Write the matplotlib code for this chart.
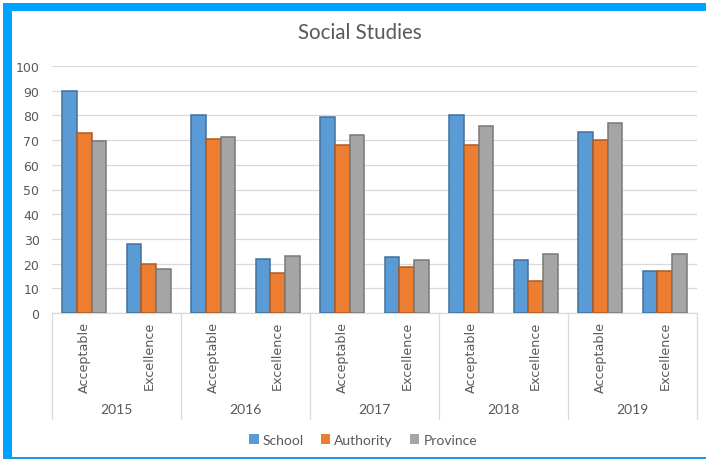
import matplotlib
matplotlib.use("Agg")
import matplotlib.pyplot as plt
from matplotlib.patches import Rectangle
from matplotlib.transforms import blended_transform_factory
import numpy as np

years = ["2015", "2016", "2017", "2018", "2019"]
levels = ["Acceptable", "Excellence"]
school = [90, 28, 80, 22, 79.5, 22.5, 80, 21.6, 73.3, 17]
authority = [73, 20, 70.5, 16, 68, 18.5, 68, 13, 70, 17]
province = [69.5, 18, 71.3, 23, 72, 21.4, 75.8, 23.7, 77, 23.7]
series_names = ["School", "Authority", "Province"]
fills = ["#5B9BD5", "#ED7D31", "#A5A5A5"]
edges = ["#41719C", "#AE5A21", "#787878"]

W, H = 706, 460
fig = plt.figure(figsize=(W / 100, H / 100), dpi=100)
fig.patch.set_facecolor("white")

# blue frame
fig.patches.append(Rectangle((3 / W, 1 - 12 / H), 1 - 3 / W, 8 / H, transform=fig.transFigure,
                             facecolor="#00A2FF", edgecolor="none", zorder=0))
fig.patches.append(Rectangle((3 / W, 1 / H), 9 / W, 1 - 5 / H, transform=fig.transFigure,
                             facecolor="#00A2FF", edgecolor="none", zorder=0))
fig.patches.append(Rectangle((3 / W, 0.5 / H), 1 - 3 / W, 1.6 / H, transform=fig.transFigure,
                             facecolor="#1A9BE8", edgecolor="none", zorder=0))

left, right, top, bottom = 52, 697, 67, 314
ax = fig.add_axes([left / W, 1 - bottom / H, (right - left) / W, (bottom - top) / H])

n = len(school)
x = np.arange(n)
bw = 0.225
for k, (vals, fc, ec, name) in enumerate(zip([school, authority, province], fills, edges, series_names)):
    ax.bar(x + (k - 1) * bw, vals, width=bw, color=fc, edgecolor=ec, linewidth=1.1,
           label=name, zorder=3)

ax.set_xlim(-0.5, n - 0.5)
ax.set_ylim(0, 100)
ax.set_yticks(range(0, 101, 10))
ax.yaxis.grid(True, color="#D9D9D9", linewidth=0.9, zorder=0)
ax.set_axisbelow(True)
for s in ["top", "right", "left"]:
    ax.spines[s].set_visible(False)
ax.spines["bottom"].set_color("#D9D9D9")
ax.spines["bottom"].set_linewidth(0.9)
ax.tick_params(axis="y", length=0, pad=9, labelsize=9, labelcolor="#595959")
ax.set_xticks([])

trans = blended_transform_factory(ax.transData, ax.transAxes)
axh = bottom - top
sep_bottom = -(420 - bottom) / axh
for g in range(len(years) + 1):
    xb = g * 2 - 0.5
    ax.plot([xb, xb], [0, sep_bottom], transform=trans, color="#D9D9D9",
            linewidth=0.9, clip_on=False)

cat_labels = levels * len(years)
for i, lab in enumerate(cat_labels):
    ax.text(i, -(322 - bottom) / axh, lab, transform=trans, rotation=90, ha="center",
            va="top", fontsize=9.2, color="#595959", family="DejaVu Sans")
for g, yr in enumerate(years):
    ax.text(g * 2 + 0.5, -(410 - bottom) / axh, yr, transform=trans, ha="center",
            va="center", fontsize=10, color="#595959", family="Lato")

fig.text(360 / W, 1 - 33 / H, "Social Studies", ha="center", va="center", fontsize=14.8,
         color="#595959", family="Lato")

leg = fig.legend(loc="center", bbox_to_anchor=(363 / W, 1 - 441 / H), ncol=3, frameon=False,
                 prop={"family": "Lato", "size": 10}, handlelength=0.7, handleheight=0.7,
                 handletextpad=0.3, columnspacing=1.2)
for t in leg.get_texts():
    t.set_color("#595959")
for h in leg.legend_handles:
    h.set_linewidth(0)

fig.savefig("out.png", dpi=100)
